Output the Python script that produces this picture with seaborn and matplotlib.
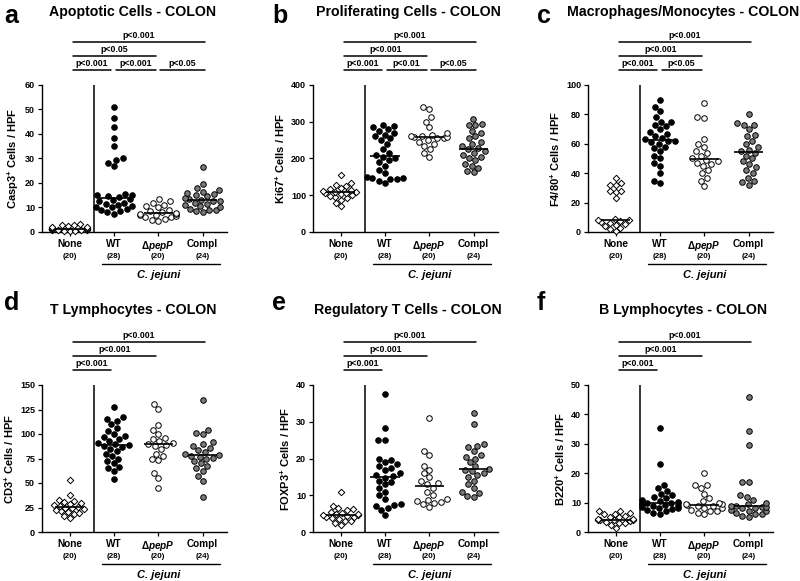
import numpy as np
import pandas as pd
import matplotlib
matplotlib.use('Agg')
import matplotlib.pyplot as plt
import seaborn as sns
from matplotlib.transforms import blended_transform_factory

sns.set_style('ticks')
plt.rcParams['font.family'] = ['Liberation Sans', 'DejaVu Sans']
plt.rcParams['font.weight'] = 'bold'
plt.rcParams['axes.labelweight'] = 'bold'
plt.rcParams['text.color'] = 'black'
plt.rcParams['axes.labelcolor'] = 'black'
plt.rcParams['xtick.color'] = 'black'
plt.rcParams['ytick.color'] = 'black'
plt.rcParams['mathtext.fontset'] = 'custom'
plt.rcParams['mathtext.rm'] = 'Liberation Sans:bold'
plt.rcParams['mathtext.it'] = 'Liberation Sans:italic:bold'
plt.rcParams['mathtext.bf'] = 'Liberation Sans:bold'

# ---------------- data ----------------
groups = ['None', 'WT', 'dpepP', 'Compl']
group_labels = ['None', 'WT', r'$\Delta\mathit{pepP}$', 'Compl']
counts = ['(20)', '(28)', '(20)', '(24)']

# a: Apoptotic cells (Casp3)
a_none = [0.3, 0.5, 0.6, 0.8, 0.9, 1.0, 1.0, 1.1, 1.2, 1.2, 1.3, 1.4, 1.5, 1.7, 2.0, 2.2, 2.5, 2.8, 3.0, 3.2]
a_wt = [7.5, 8, 8.5, 9, 9.5, 10, 10, 10.5, 11, 11.5, 12, 12.5, 13, 13.5, 14.2, 14.5, 15, 15, 15.5,
        27, 28, 29.5, 30, 35, 38.5, 43, 46.5, 51]
a_pepp = [4.5, 5, 5.5, 6, 6, 6.5, 7, 7, 7.2, 7.5, 7.7, 8, 8.5, 9, 10, 10.5, 11, 12, 12.5, 13.5]
a_compl = [8, 8.5, 9, 9, 9.5, 10, 10.5, 11, 11.5, 12, 12.5, 12.8, 13.2, 13.5, 14, 14.5, 15, 15.5,
           16, 16.5, 17, 18, 19.5, 26.7]

# b: Proliferating cells (Ki67)
b_none = [70, 80, 88, 92, 95, 98, 100, 104, 106, 107, 109, 110, 112, 115, 118, 120, 125, 128, 133, 155]
b_wt = [132, 140, 143, 145, 147, 148, 150, 160, 170, 180, 190, 195, 200, 205, 210, 215, 225, 240,
        250, 255, 260, 265, 270, 275, 280, 285, 288, 290]
b_pepp = [203, 215, 225, 235, 240, 245, 250, 255, 257, 258, 259, 260, 262, 265, 270, 285, 300, 312, 335, 340]
b_compl = [162, 165, 175, 180, 185, 195, 200, 205, 210, 215, 220, 225, 229, 235, 240, 245, 255, 260,
           270, 275, 290, 292, 295, 307]

# c: Macrophages/Monocytes (F4/80)
c_none = [1, 2, 3, 4, 5, 5.5, 6, 7, 7.5, 8, 8.5, 9, 23, 27, 28, 28, 32, 32, 33, 37]
c_wt = [33, 35, 40, 45, 47, 50, 52, 55, 57, 58, 60, 61, 62, 62, 63, 64, 65, 67, 68, 70, 72, 73, 75,
        75, 78, 82, 85, 90]
c_pepp = [31, 35, 37, 40, 42, 45, 46, 47, 48, 49, 50, 52, 54, 55, 58, 60, 63, 77.5, 78, 88]
c_compl = [32, 34, 35, 37, 40, 42, 44, 46, 48, 50, 52, 54, 55, 56, 58, 60, 62, 65, 66, 70, 73, 73, 74, 80]

# d: T lymphocytes (CD3)
d_none = [14, 16, 18, 19, 20, 21, 22, 23, 24, 25, 25.5, 27, 28, 29, 30, 31, 32, 33, 38, 53]
d_wt = [54, 62, 65, 66, 70, 72, 75, 78, 80, 83, 85, 87, 88, 89, 89.5, 91, 93, 95, 97, 98, 100, 103,
        106, 110, 113, 115, 117, 128]
d_pepp = [45, 55, 60, 73, 75, 78, 80, 85, 88, 89, 90, 91, 93, 95, 96, 100, 104, 109, 126, 131]
d_compl = [36, 52, 57, 62, 65, 67, 70, 72, 74, 76, 77, 78, 78.5, 80, 82, 84, 86, 88, 90, 92, 100,
           101, 104, 135]

# e: Regulatory T cells (FOXP3)
e_none = [2, 2.5, 3, 3, 3.5, 3.8, 4, 4.2, 4.4, 4.5, 4.6, 4.8, 5, 5.3, 5.5, 6, 6.2, 6.5, 7, 11]
e_wt = [4.5, 6, 6.5, 7, 7.3, 7.5, 9, 10, 11, 12, 13, 13.5, 14, 14.8, 15.2, 15.5, 16, 17, 17.5, 18,
        18.5, 19, 19.5, 20, 25, 25, 28.3, 37.5]
e_pepp = [6.8, 7.5, 8, 8.2, 8.5, 8.7, 9, 10, 12, 13, 13.2, 14, 15, 16, 17, 18, 21, 22, 31, 11]
e_compl = [9.5, 9.8, 10.5, 11, 12, 13, 14, 15, 15.5, 16, 16.5, 17, 17.2, 18, 19, 20, 20.5, 21, 22,
           23, 23.5, 24, 29.5, 32.5]

# f: B lymphocytes (B220)
f_none = [1.5, 2.5, 3, 3.2, 3.5, 3.8, 4, 4, 4.1, 4.2, 4.3, 4.5, 5, 5.2, 5.5, 6, 6.2, 6.5, 7, 7]
f_wt = [6, 6.5, 7, 7.5, 7.8, 8, 8.2, 8.5, 8.8, 9, 9.2, 9.4, 9.6, 9.7, 9.8, 10, 10.2, 10.5, 11, 11.5,
        12, 12.5, 13, 14, 15, 16, 23, 35.5]
f_pepp = [6, 6.5, 7, 7.2, 7.5, 8, 8.3, 8.8, 9, 9.2, 9.4, 9.6, 10, 10.5, 11.5, 13, 15, 16, 16, 20]
f_compl = [5, 5.5, 6, 6.2, 6.5, 7, 7.3, 7.6, 8, 8.3, 8.5, 8.6, 8.8, 9, 9.5, 10, 11, 12, 12.5, 17, 17,
           29.5, 34.5, 46]

letters = ['a', 'b', 'c', 'd', 'e', 'f']
titles = ['Apoptotic Cells - COLON', 'Proliferating Cells - COLON', 'Macrophages/Monocytes - COLON',
          'T Lymphocytes - COLON', 'Regulatory T Cells - COLON', 'B Lymphocytes - COLON']
ylabels = [r'Casp3$^{+}$ Cells / HPF', r'Ki67$^{+}$ Cells / HPF', r'F4/80$^{+}$ Cells / HPF',
           r'CD3$^{+}$ Cells / HPF', r'FOXP3$^{+}$ Cells / HPF', r'B220$^{+}$ Cells / HPF']
ymaxes = [60, 400, 100, 150, 40, 50]
ysteps = [10, 100, 20, 25, 10, 10]
panel_data = [
    [a_none, a_wt, a_pepp, a_compl],
    [b_none, b_wt, b_pepp, b_compl],
    [c_none, c_wt, c_pepp, c_compl],
    [d_none, d_wt, d_pepp, d_compl],
    [e_none, e_wt, e_pepp, e_compl],
    [f_none, f_wt, f_pepp, f_compl],
]
# (group i, group j, level, text)
sigs = [
    [(0, 1, 0, 'p<0.001'), (1, 2, 0, 'p<0.001'), (2, 3, 0, 'p<0.05'), (0, 2, 1, 'p<0.05'), (0, 3, 2, 'p<0.001')],
    [(0, 1, 0, 'p<0.001'), (1, 2, 0, 'p<0.01'), (2, 3, 0, 'p<0.05'), (0, 2, 1, 'p<0.001'), (0, 3, 2, 'p<0.001')],
    [(0, 1, 0, 'p<0.001'), (1, 2, 0, 'p<0.05'), (0, 2, 1, 'p<0.001'), (0, 3, 2, 'p<0.001')],
    [(0, 1, 0, 'p<0.001'), (0, 2, 1, 'p<0.001'), (0, 3, 2, 'p<0.001')],
    [(0, 1, 0, 'p<0.001'), (0, 2, 1, 'p<0.001'), (0, 3, 2, 'p<0.001')],
    [(0, 1, 0, 'p<0.001'), (0, 2, 1, 'p<0.001'), (0, 3, 2, 'p<0.001')],
]

markers = ['D', 'o', 'o', 'o']
facecolors = ['white', 'black', 'white', '#7a7a7a']
msizes = [3.3, 4.0, 4.0, 4.0]

# ---------------- layout ----------------
W, H = 800, 581
fig = plt.figure(figsize=(W / 100, H / 100), dpi=100)
col_left = [42, 313, 588]
row_bottom = [232, 532]
ax_w, ax_h = 185, 147
title_cx = [133, 408, 683]
title_cy = [12, 310]
letter_x = [4, 272, 537]
letter_base = [23, 310]

for p in range(6):
    r, c = divmod(p, 3)
    left = col_left[c]
    bottom = row_bottom[r]
    ax = fig.add_axes([left / W, 1 - bottom / H, ax_w / W, ax_h / H])

    rows = []
    for g, vals in zip(groups, panel_data[p]):
        for v in vals:
            rows.append((g, v))
    df = pd.DataFrame(rows, columns=['group', 'val'])

    for gi, g in enumerate(groups):
        sub = df[df['group'] == g]
        sns.swarmplot(data=sub, x='group', y='val', order=groups, ax=ax,
                      marker=markers[gi], color=facecolors[gi], edgecolor='black',
                      linewidth=0.7, size=msizes[gi], warn_thresh=1, clip_on=False, zorder=3)
        med = float(np.median(sub['val']))
        ax.hlines(med, gi - 0.33, gi + 0.33, color='black', lw=1.2, zorder=4)

    ymax = ymaxes[p]
    ax.set_ylim(0, ymax)
    ax.set_xlim(-0.62, 3.55)
    ax.set_yticks(np.arange(0, ymax + 0.01, ysteps[p]))
    ax.set_yticklabels([f'{int(t)}' for t in np.arange(0, ymax + 0.01, ysteps[p])], fontsize=6.5,
                       fontweight='bold')
    ax.set_xticks(range(4))
    ax.set_xticklabels(group_labels, fontsize=7.2, fontweight='bold')
    ax.tick_params(axis='both', length=3, width=0.9, pad=2, colors='black')
    ax.set_xlabel('')
    ax.set_ylabel(ylabels[p], fontsize=8, fontweight='bold', labelpad=3, color='black')
    for s in ['top', 'right']:
        ax.spines[s].set_visible(False)
    for s in ['left', 'bottom']:
        ax.spines[s].set_linewidth(1.0)
        ax.spines[s].set_color('black')

    # separator between uninfected and infected
    ax.axvline(0.55, color='black', lw=1.1, zorder=2)

    trans = blended_transform_factory(ax.transData, ax.transAxes)
    # counts under labels
    for i, cnt in enumerate(counts):
        ax.text(i, -25 / ax_h, cnt, transform=trans, ha='center', va='center', fontsize=5.8,
                fontweight='bold')
    # C. jejuni bracket
    ax.plot([0.73, 3.4], [-32 / ax_h, -32 / ax_h], transform=trans, color='black', lw=1.0,
            clip_on=False)
    ax.text(2.0, -43 / ax_h, 'C. jejuni', transform=trans, ha='center', va='center', fontsize=8,
            fontweight='bold', fontstyle='italic')

    # significance bars
    level_px = [15, 29, 43]
    for (i, j, lev, txt) in sigs[p]:
        yy = 1 + level_px[lev] / ax_h
        x1 = i + (0.08 if i == 0 else 0.04)
        x2 = j + (0.05 if j == 3 else -0.06)
        ax.plot([x1, x2], [yy, yy], transform=trans, color='black', lw=1.1, clip_on=False)
        ax.text((x1 + x2) / 2, yy + 1.5 / ax_h, txt, transform=trans, ha='center', va='bottom',
                fontsize=6.3, fontweight='bold')

    # title and panel letter
    fig.text(title_cx[c] / W, 1 - title_cy[r] / H, titles[p], ha='center', va='center',
             fontsize=10.2, fontweight='bold')
    fig.text(letter_x[c] / W, 1 - letter_base[r] / H, letters[p], ha='left', va='baseline',
             fontsize=18, fontweight='bold')

fig.savefig('out.png', dpi=100, facecolor='white')
